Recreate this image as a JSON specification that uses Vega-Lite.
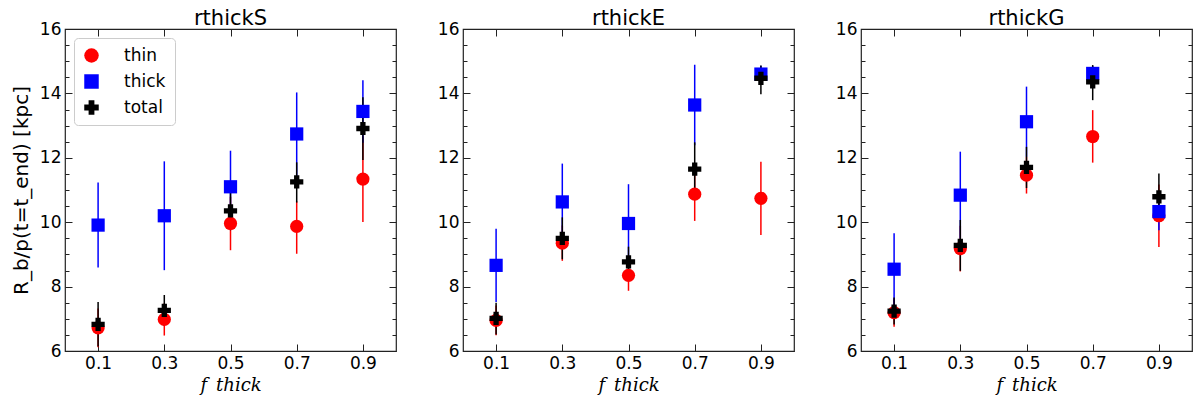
{
  "$schema": "https://vega.github.io/schema/vega-lite/v6.json",
  "padding": {"left": 10, "top": 7, "right": 5, "bottom": 0},
  "background": "white",
  "config": {
    "view": {"stroke": "#222", "strokeWidth": 1.2},
    "font": "DejaVu Sans",
    "axis": {"minExtent": 0},
    "title": {"fontSize": 21, "fontWeight": "normal", "font": "DejaVu Sans", "color": "black", "offset": -9, "frame": "group"}
  },
  "data": {"values": [
    {"p":"S","s":"thin","x":0.1,"y":6.72,"lo":6.12,"hi":7.32},
    {"p":"S","s":"thin","x":0.3,"y":6.98,"lo":6.48,"hi":7.48},
    {"p":"S","s":"thin","x":0.5,"y":9.96,"lo":9.13,"hi":10.79},
    {"p":"S","s":"thin","x":0.7,"y":9.87,"lo":9.02,"hi":10.65},
    {"p":"S","s":"thin","x":0.9,"y":11.34,"lo":10.01,"hi":12.67},
    {"p":"E","s":"thin","x":0.1,"y":6.95,"lo":6.49,"hi":7.41},
    {"p":"E","s":"thin","x":0.3,"y":9.35,"lo":8.8,"hi":9.9},
    {"p":"E","s":"thin","x":0.5,"y":8.35,"lo":7.87,"hi":8.83},
    {"p":"E","s":"thin","x":0.7,"y":10.87,"lo":10.04,"hi":11.7},
    {"p":"E","s":"thin","x":0.9,"y":10.74,"lo":9.6,"hi":11.88},
    {"p":"G","s":"thin","x":0.1,"y":7.19,"lo":6.75,"hi":7.63},
    {"p":"G","s":"thin","x":0.3,"y":9.18,"lo":8.47,"hi":9.89},
    {"p":"G","s":"thin","x":0.5,"y":11.46,"lo":10.89,"hi":12.03},
    {"p":"G","s":"thin","x":0.7,"y":12.66,"lo":11.85,"hi":13.48},
    {"p":"G","s":"thin","x":0.9,"y":10.2,"lo":9.23,"hi":11.17},
    {"p":"S","s":"thick","x":0.1,"y":9.91,"lo":8.59,"hi":11.23},
    {"p":"S","s":"thick","x":0.3,"y":10.2,"lo":8.51,"hi":11.89},
    {"p":"S","s":"thick","x":0.5,"y":11.1,"lo":9.98,"hi":12.22},
    {"p":"S","s":"thick","x":0.7,"y":12.74,"lo":11.44,"hi":14.03},
    {"p":"S","s":"thick","x":0.9,"y":13.44,"lo":12.47,"hi":14.41},
    {"p":"E","s":"thick","x":0.1,"y":8.66,"lo":7.52,"hi":9.8},
    {"p":"E","s":"thick","x":0.3,"y":10.63,"lo":9.44,"hi":11.82},
    {"p":"E","s":"thick","x":0.5,"y":9.96,"lo":8.74,"hi":11.18},
    {"p":"E","s":"thick","x":0.7,"y":13.64,"lo":12.39,"hi":14.89},
    {"p":"E","s":"thick","x":0.9,"y":14.6,"lo":14.34,"hi":14.86},
    {"p":"G","s":"thick","x":0.1,"y":8.54,"lo":7.42,"hi":9.66},
    {"p":"G","s":"thick","x":0.3,"y":10.84,"lo":9.49,"hi":12.19},
    {"p":"G","s":"thick","x":0.5,"y":13.12,"lo":12.03,"hi":14.21},
    {"p":"G","s":"thick","x":0.7,"y":14.62,"lo":14.39,"hi":14.85},
    {"p":"G","s":"thick","x":0.9,"y":10.33,"lo":9.75,"hi":10.91},
    {"p":"S","s":"total","x":0.1,"y":6.83,"lo":6.14,"hi":7.52},
    {"p":"S","s":"total","x":0.3,"y":7.26,"lo":6.78,"hi":7.74},
    {"p":"S","s":"total","x":0.5,"y":10.35,"lo":9.75,"hi":10.95},
    {"p":"S","s":"total","x":0.7,"y":11.25,"lo":10.61,"hi":11.86},
    {"p":"S","s":"total","x":0.9,"y":12.91,"lo":11.93,"hi":13.88},
    {"p":"E","s":"total","x":0.1,"y":7.01,"lo":6.51,"hi":7.5},
    {"p":"E","s":"total","x":0.3,"y":9.5,"lo":8.85,"hi":10.15},
    {"p":"E","s":"total","x":0.5,"y":8.77,"lo":8.3,"hi":9.24},
    {"p":"E","s":"total","x":0.7,"y":11.65,"lo":10.82,"hi":12.48},
    {"p":"E","s":"total","x":0.9,"y":14.47,"lo":13.97,"hi":14.87},
    {"p":"G","s":"total","x":0.1,"y":7.24,"lo":6.82,"hi":7.66},
    {"p":"G","s":"total","x":0.3,"y":9.28,"lo":8.49,"hi":10.07},
    {"p":"G","s":"total","x":0.5,"y":11.7,"lo":11.06,"hi":12.34},
    {"p":"G","s":"total","x":0.7,"y":14.36,"lo":13.79,"hi":14.88},
    {"p":"G","s":"total","x":0.9,"y":10.79,"lo":10.07,"hi":11.51}
  ]},
  "spacing": 38,
  "resolve": {"scale": {"color": "independent", "shape": "independent"}},
  "hconcat": [
    {
      "width": 331, "height": 322,
      "title": {"text": "rthickS"},
      "transform": [{"filter": "datum.p === 'S'"}],
      "resolve": {"axis": {"x": "independent", "y": "independent"}},
      "layer": [
        {
          "mark": {"type": "rule", "strokeWidth": 1.5},
          "encoding": {
            "x": {"field": "x", "type": "quantitative", "scale": {"domain": [0, 1], "nice": false},
              "axis": {"orient": "bottom", "values": [0.1, 0.3, 0.5, 0.7, 0.9], "format": ".1f", "tickSize": -7, "tickColor": "#222", "labelPadding": 11, "labelFontSize": 17, "labelColor": "black", "labelFont": "DejaVu Sans", "labelFlush": false, "labelOverlap": false, "domain": false, "grid": false,
                "title": "f_thick", "titleFont": "DejaVu Serif", "titleFontStyle": "italic", "titleFontWeight": "normal", "titleFontSize": 18, "titleColor": "black", "titlePadding": 5}},
            "y": {"field": "lo", "type": "quantitative", "scale": {"domain": [6, 16], "nice": false},
              "axis": {"orient": "left", "values": [6, 6.5, 7, 7.5, 8, 8.5, 9, 9.5, 10, 10.5, 11, 11.5, 12, 12.5, 13, 13.5, 14, 14.5, 15, 15.5, 16],
                "labelExpr": "datum.value % 2 === 0 ? format(datum.value, 'd') : ''",
                "tickSize": {"condition": {"test": "datum.value % 2 === 0", "value": -7}, "value": -4},
                "tickColor": "#222", "labelPadding": 11, "labelFontSize": 17, "labelColor": "black", "labelFont": "DejaVu Sans", "labelFlush": false, "labelOverlap": false, "domain": false, "grid": false,
                "title": "R_b/p(t=t_end)  [kpc]", "titleFont": "DejaVu Sans", "titleFontWeight": "normal", "titleFontSize": 20, "titleColor": "black", "titlePadding": 8}},
            "y2": {"field": "hi"},
            "color": {"condition": [{"test": "datum.s === 'thin'", "value": "#ff0000"}, {"test": "datum.s === 'thick'", "value": "#0000ff"}], "value": "#000000"}
          }
        },
        {
          "mark": {"type": "point", "filled": true, "opacity": 1, "strokeWidth": 0, "size": 175},
          "encoding": {
            "x": {"field": "x", "type": "quantitative", "scale": {"domain": [0, 1], "nice": false},
              "axis": {"orient": "top", "values": [0.1, 0.3, 0.5, 0.7, 0.9], "tickSize": -7, "tickColor": "#222", "labels": false, "domain": false, "grid": false, "title": null}},
            "y": {"field": "y", "type": "quantitative", "scale": {"domain": [6, 16], "nice": false},
              "axis": {"orient": "right", "values": [6, 6.5, 7, 7.5, 8, 8.5, 9, 9.5, 10, 10.5, 11, 11.5, 12, 12.5, 13, 13.5, 14, 14.5, 15, 15.5, 16],
                "tickSize": {"condition": {"test": "datum.value % 2 === 0", "value": -7}, "value": -4},
                "tickColor": "#222", "labels": false, "domain": false, "grid": false, "title": null}},
            "color": {"field": "s", "type": "nominal", "scale": {"domain": ["thin", "thick", "total"], "range": ["#ff0000", "#0000ff", "#000000"]},
              "legend": {"orient": "top-left", "title": null, "offset": 9, "padding": 9, "rowPadding": 8, "labelFontSize": 17, "labelFont": "DejaVu Sans", "labelColor": "black", "symbolSize": 210, "labelOffset": 24, "fillColor": "rgba(255,255,255,0.85)", "strokeColor": "#cccccc", "cornerRadius": 4, "symbolStrokeWidth": 0}},
            "shape": {"field": "s", "type": "nominal", "scale": {"domain": ["thin", "thick", "total"], "range": ["circle", "square", "cross"]},
              "legend": {"orient": "top-left", "title": null}}
          }
        }
      ]
    },
    {
      "width": 331, "height": 322,
      "title": {"text": "rthickE"},
      "transform": [{"filter": "datum.p === 'E'"}],
      "resolve": {"axis": {"x": "independent", "y": "independent"}},
      "layer": [
        {
          "mark": {"type": "rule", "strokeWidth": 1.5},
          "encoding": {
            "x": {"field": "x", "type": "quantitative", "scale": {"domain": [0, 1], "nice": false},
              "axis": {"orient": "bottom", "values": [0.1, 0.3, 0.5, 0.7, 0.9], "format": ".1f", "tickSize": -7, "tickColor": "#222", "labelPadding": 11, "labelFontSize": 17, "labelColor": "black", "labelFont": "DejaVu Sans", "labelFlush": false, "labelOverlap": false, "domain": false, "grid": false,
                "title": "f_thick", "titleFont": "DejaVu Serif", "titleFontStyle": "italic", "titleFontWeight": "normal", "titleFontSize": 18, "titleColor": "black", "titlePadding": 5}},
            "y": {"field": "lo", "type": "quantitative", "scale": {"domain": [6, 16], "nice": false},
              "axis": {"orient": "left", "values": [6, 6.5, 7, 7.5, 8, 8.5, 9, 9.5, 10, 10.5, 11, 11.5, 12, 12.5, 13, 13.5, 14, 14.5, 15, 15.5, 16],
                "labelExpr": "datum.value % 2 === 0 ? format(datum.value, 'd') : ''",
                "tickSize": {"condition": {"test": "datum.value % 2 === 0", "value": -7}, "value": -4},
                "tickColor": "#222", "labelPadding": 11, "labelFontSize": 17, "labelColor": "black", "labelFont": "DejaVu Sans", "labelFlush": false, "labelOverlap": false, "domain": false, "grid": false, "title": null}},
            "y2": {"field": "hi"},
            "color": {"condition": [{"test": "datum.s === 'thin'", "value": "#ff0000"}, {"test": "datum.s === 'thick'", "value": "#0000ff"}], "value": "#000000"}
          }
        },
        {
          "mark": {"type": "point", "filled": true, "opacity": 1, "strokeWidth": 0, "size": 175},
          "encoding": {
            "x": {"field": "x", "type": "quantitative", "scale": {"domain": [0, 1], "nice": false},
              "axis": {"orient": "top", "values": [0.1, 0.3, 0.5, 0.7, 0.9], "tickSize": -7, "tickColor": "#222", "labels": false, "domain": false, "grid": false, "title": null}},
            "y": {"field": "y", "type": "quantitative", "scale": {"domain": [6, 16], "nice": false},
              "axis": {"orient": "right", "values": [6, 6.5, 7, 7.5, 8, 8.5, 9, 9.5, 10, 10.5, 11, 11.5, 12, 12.5, 13, 13.5, 14, 14.5, 15, 15.5, 16],
                "tickSize": {"condition": {"test": "datum.value % 2 === 0", "value": -7}, "value": -4},
                "tickColor": "#222", "labels": false, "domain": false, "grid": false, "title": null}},
            "color": {"field": "s", "type": "nominal", "scale": {"domain": ["thin", "thick", "total"], "range": ["#ff0000", "#0000ff", "#000000"]}, "legend": null},
            "shape": {"field": "s", "type": "nominal", "scale": {"domain": ["thin", "thick", "total"], "range": ["circle", "square", "cross"]}, "legend": null}
          }
        }
      ]
    },
    {
      "width": 331, "height": 322,
      "title": {"text": "rthickG"},
      "transform": [{"filter": "datum.p === 'G'"}],
      "resolve": {"axis": {"x": "independent", "y": "independent"}},
      "layer": [
        {
          "mark": {"type": "rule", "strokeWidth": 1.5},
          "encoding": {
            "x": {"field": "x", "type": "quantitative", "scale": {"domain": [0, 1], "nice": false},
              "axis": {"orient": "bottom", "values": [0.1, 0.3, 0.5, 0.7, 0.9], "format": ".1f", "tickSize": -7, "tickColor": "#222", "labelPadding": 11, "labelFontSize": 17, "labelColor": "black", "labelFont": "DejaVu Sans", "labelFlush": false, "labelOverlap": false, "domain": false, "grid": false,
                "title": "f_thick", "titleFont": "DejaVu Serif", "titleFontStyle": "italic", "titleFontWeight": "normal", "titleFontSize": 18, "titleColor": "black", "titlePadding": 5}},
            "y": {"field": "lo", "type": "quantitative", "scale": {"domain": [6, 16], "nice": false},
              "axis": {"orient": "left", "values": [6, 6.5, 7, 7.5, 8, 8.5, 9, 9.5, 10, 10.5, 11, 11.5, 12, 12.5, 13, 13.5, 14, 14.5, 15, 15.5, 16],
                "labelExpr": "datum.value % 2 === 0 ? format(datum.value, 'd') : ''",
                "tickSize": {"condition": {"test": "datum.value % 2 === 0", "value": -7}, "value": -4},
                "tickColor": "#222", "labelPadding": 11, "labelFontSize": 17, "labelColor": "black", "labelFont": "DejaVu Sans", "labelFlush": false, "labelOverlap": false, "domain": false, "grid": false, "title": null}},
            "y2": {"field": "hi"},
            "color": {"condition": [{"test": "datum.s === 'thin'", "value": "#ff0000"}, {"test": "datum.s === 'thick'", "value": "#0000ff"}], "value": "#000000"}
          }
        },
        {
          "mark": {"type": "point", "filled": true, "opacity": 1, "strokeWidth": 0, "size": 175},
          "encoding": {
            "x": {"field": "x", "type": "quantitative", "scale": {"domain": [0, 1], "nice": false},
              "axis": {"orient": "top", "values": [0.1, 0.3, 0.5, 0.7, 0.9], "tickSize": -7, "tickColor": "#222", "labels": false, "domain": false, "grid": false, "title": null}},
            "y": {"field": "y", "type": "quantitative", "scale": {"domain": [6, 16], "nice": false},
              "axis": {"orient": "right", "values": [6, 6.5, 7, 7.5, 8, 8.5, 9, 9.5, 10, 10.5, 11, 11.5, 12, 12.5, 13, 13.5, 14, 14.5, 15, 15.5, 16],
                "tickSize": {"condition": {"test": "datum.value % 2 === 0", "value": -7}, "value": -4},
                "tickColor": "#222", "labels": false, "domain": false, "grid": false, "title": null}},
            "color": {"field": "s", "type": "nominal", "scale": {"domain": ["thin", "thick", "total"], "range": ["#ff0000", "#0000ff", "#000000"]}, "legend": null},
            "shape": {"field": "s", "type": "nominal", "scale": {"domain": ["thin", "thick", "total"], "range": ["circle", "square", "cross"]}, "legend": null}
          }
        }
      ]
    }
  ]
}
